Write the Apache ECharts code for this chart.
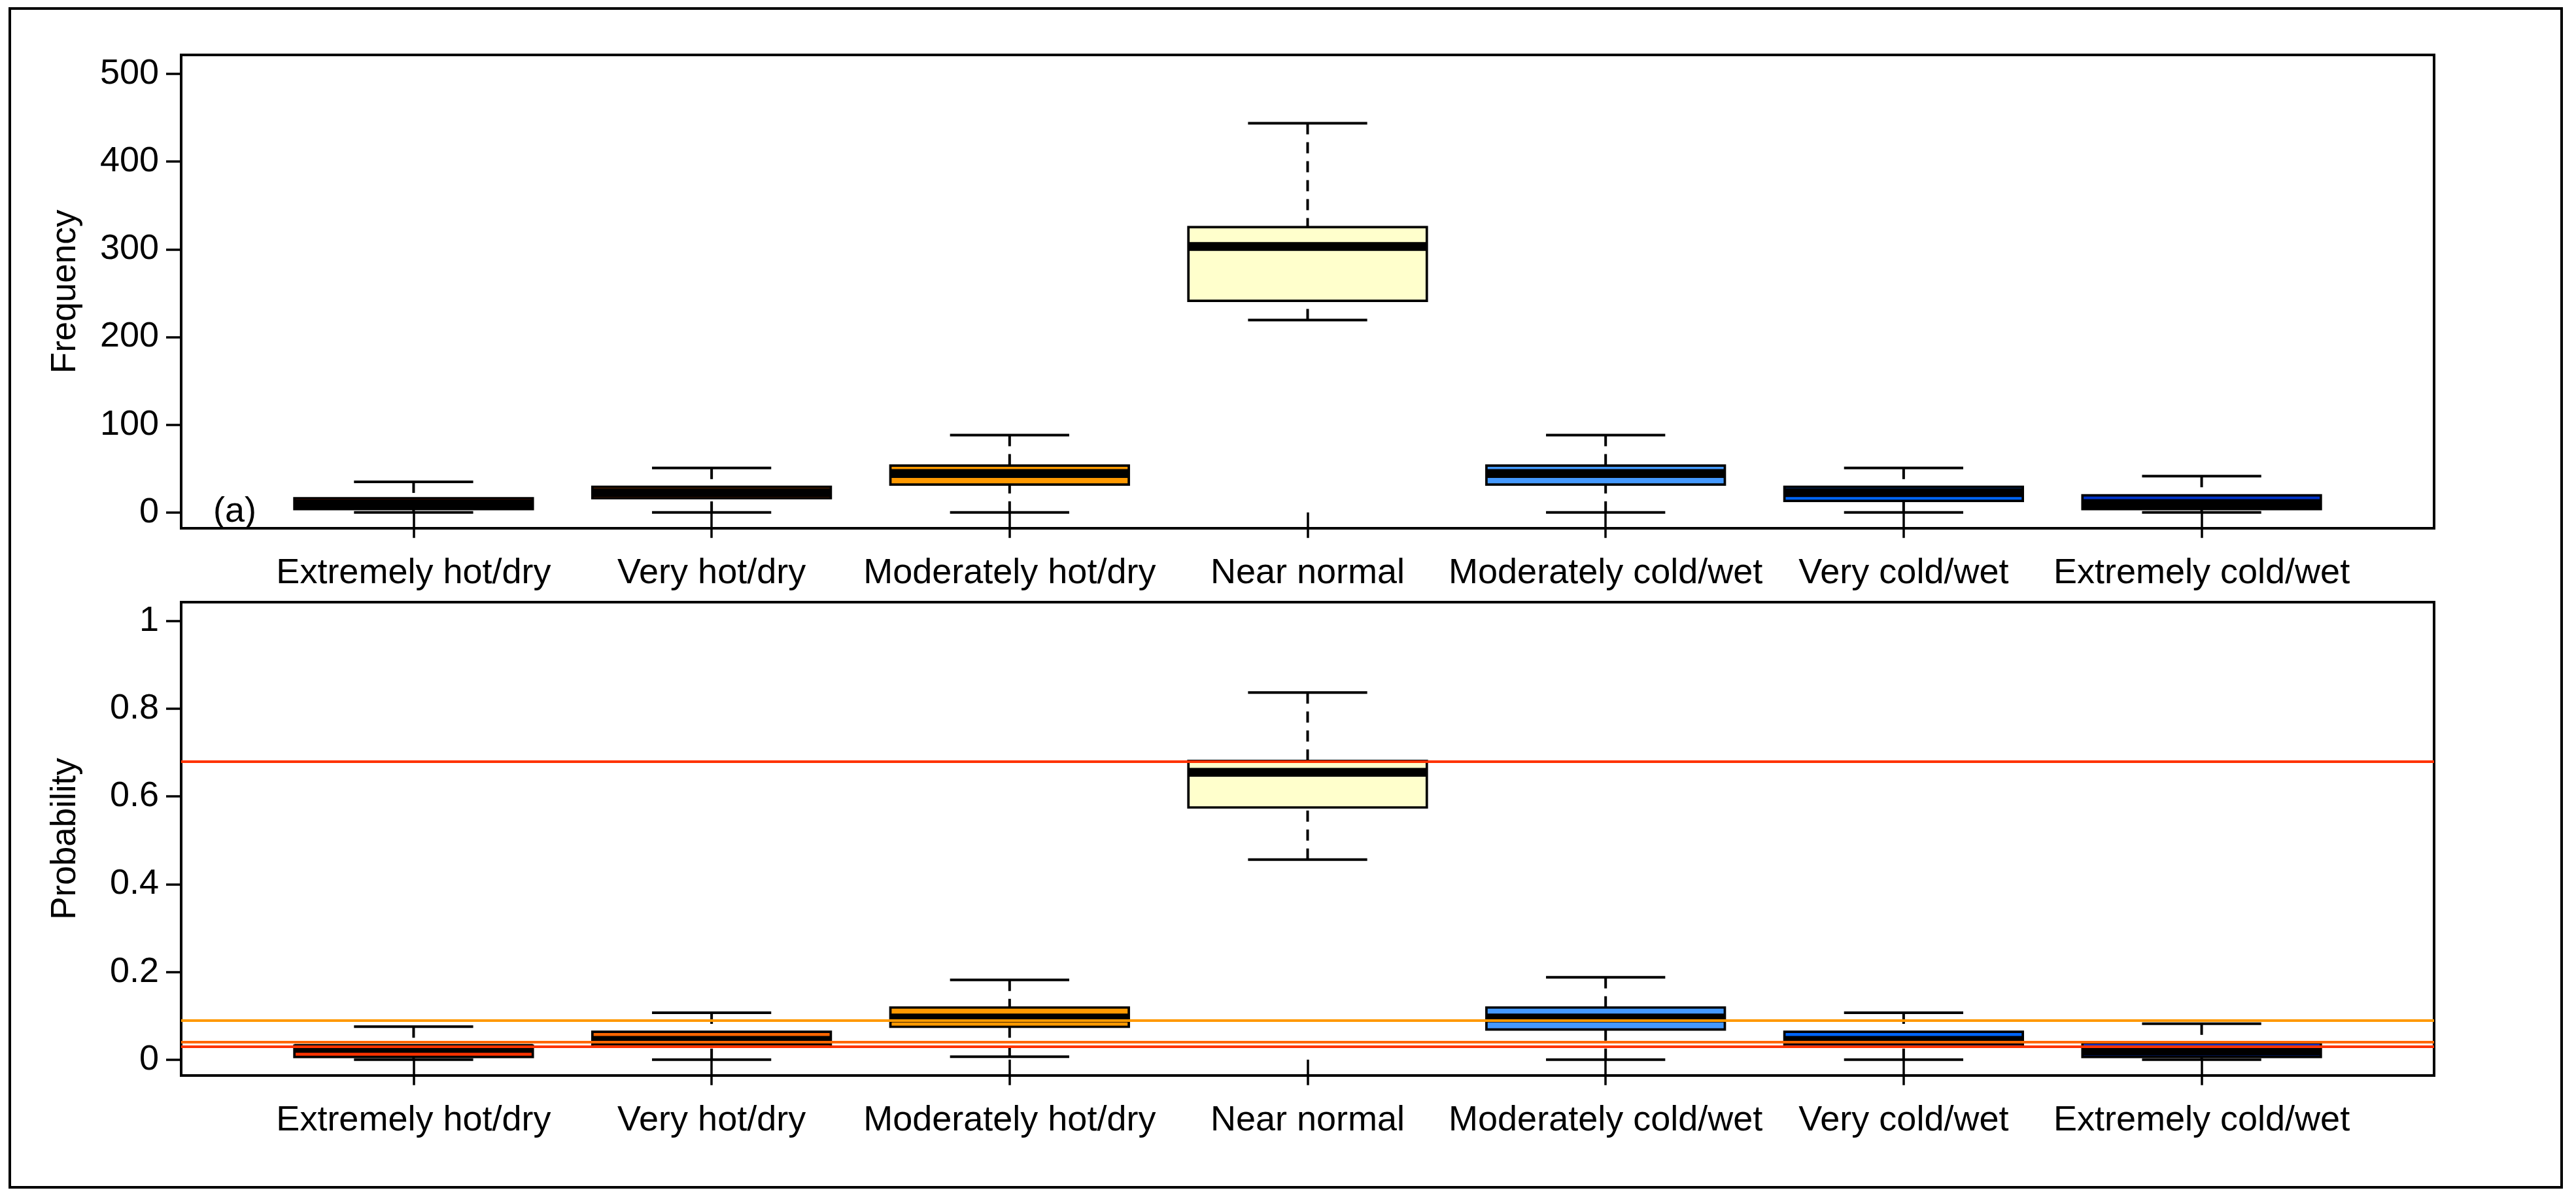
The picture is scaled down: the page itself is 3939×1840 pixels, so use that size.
<!DOCTYPE html>
<html>
<head>
<meta charset="utf-8">
<script src="https://cdn.jsdelivr.net/npm/echarts@6/dist/echarts.min.js"></script>
<style>
html,body{margin:0;padding:0;background:#fff;}
#chart{width:3939px;height:1840px;}
</style>
</head>
<body>
<div id="chart"></div>
<script>
// ---- data ----
const categories = ['Extremely hot/dry','Very hot/dry','Moderately hot/dry','Near normal','Moderately cold/wet','Very cold/wet','Extremely cold/wet'];
const boxColors = ['#FF3300','#FF6600','#FF9900','#FFFFCC','#4499FF','#0066FF','#0033CC'];

// Frequency panel (a): min, Q1, median, Q3, max
const freqMin = [0, 0, 0, 219.3, 0, 0, 0];
const freqQ1  = [3.8, 16.3, 31.9, 241.2, 31.9, 13.2, 3.8];
const freqMed = [10, 22.7, 44.5, 303.3, 44.5, 22.6, 10.2];
const freqQ3  = [16.3, 29.2, 53.5, 325.3, 53.5, 29.2, 19.5];
const freqMax = [35, 50.7, 88.2, 443.8, 88.2, 50.7, 41.5];

// Probability panel
const probMin = [0, 0, 0.007, 0.456, 0, 0, 0];
const probQ1  = [0.0064, 0.031, 0.075, 0.575, 0.069, 0.031, 0.0064];
const probMed = [0.026, 0.044, 0.095, 0.655, 0.0953, 0.044, 0.0194];
const probQ3  = [0.032, 0.0636, 0.119, 0.681, 0.119, 0.0636, 0.0388];
const probMax = [0.0755, 0.107, 0.182, 0.837, 0.188, 0.107, 0.082];

// reference lines in probability panel
const refValues = [0.681, 0.0944, 0.0447, 0.0258];
const refColors = ['#FF3300', '#FF9900', '#FF6600', '#FF3300'];

const freqTicks = [0, 100, 200, 300, 400, 500];
const probTicks = [0, 0.2, 0.4, 0.6, 0.8, 1];
const probTickLabels = ['0', '0.2', '0.4', '0.6', '0.8', '1'];
const catPositions = [1, 2, 3, 4, 5, 6, 7];

// ---- chart ----
const FONT = '"Liberation Sans", Arial, sans-serif';
const chart = echarts.init(document.getElementById('chart'), null, {renderer: 'canvas'});

function buildData(mn, q1, md, q3, mx) {
  return categories.map((c, i) => [catPositions[i], mn[i], q1[i], md[i], q3[i], mx[i]]);
}

function renderBox(params, api) {
  const i = params.dataIndex;
  const x = api.value(0), mn = api.value(1), q1 = api.value(2), md = api.value(3), q3 = api.value(4), mx = api.value(5);
  const hw = 0.4, cw = 0.2;
  const c = (a, b) => api.coord([a, b]);
  const pTL = c(x - hw, q3), pBR = c(x + hw, q1);
  const line = (a1, b1, a2, b2, w, dash) => {
    const p1 = c(a1, b1), p2 = c(a2, b2);
    return {
      type: 'line',
      shape: {x1: p1[0], y1: p1[1], x2: p2[0], y2: p2[1]},
      style: {stroke: '#000', lineWidth: w, lineDash: dash || null, lineCap: 'butt'}
    };
  };
  return {
    type: 'group',
    children: [
      line(x, mx, x, q3, 4, [17, 12]),
      line(x, mn, x, q1, 4, [17, 12]),
      line(x - cw, mx, x + cw, mx, 4),
      line(x - cw, mn, x + cw, mn, 4),
      {
        type: 'rect',
        shape: {x: pTL[0], y: pTL[1], width: pBR[0] - pTL[0], height: pBR[1] - pTL[1]},
        style: {fill: boxColors[i], stroke: '#000', lineWidth: 3.7}
      },
      line(x - hw, md, x + hw, md, 13.5)
    ]
  };
}

function xAxisDef(gridIndex) {
  return {
    type: 'value', gridIndex: gridIndex, min: 0.22, max: 7.78,
    axisLine: {show: false},
    splitLine: {show: false},
    axisTick: {show: true, inside: false, length: 39, customValues: catPositions, lineStyle: {color: '#000', width: 3.5}},
    axisLabel: {
      show: true, customValues: catPositions, margin: 42,
      formatter: v => categories[Math.round(v) - 1],
      fontSize: 54, fontFamily: FONT, color: '#000'
    }
  };
}

const option = {
  backgroundColor: '#fff',
  animation: false,
  graphic: [
    {type: 'rect', shape: {x: 15, y: 13, width: 3902, height: 1803}, style: {fill: 'none', stroke: '#000', lineWidth: 4}, z: 100},
    {type: 'text', x: 326, y: 783, style: {text: '(a)', fontSize: 54, fontFamily: FONT, fill: '#000', align: 'left', verticalAlign: 'middle'}, z: 100}
  ],
  grid: [
    {left: 277, top: 84, width: 3445, height: 724, show: true, borderColor: '#000', borderWidth: 4, backgroundColor: 'transparent'},
    {left: 277, top: 921, width: 3445, height: 724, show: true, borderColor: '#000', borderWidth: 4, backgroundColor: 'transparent'}
  ],
  xAxis: [xAxisDef(0), xAxisDef(1)],
  yAxis: [
    {
      type: 'value', gridIndex: 0, min: -18, max: 521.6,
      name: 'Frequency', nameLocation: 'middle', nameGap: 150,
      nameTextStyle: {fontSize: 53, fontFamily: FONT, color: '#000'},
      axisLine: {show: false}, splitLine: {show: false},
      axisTick: {show: true, inside: false, length: 23, customValues: freqTicks, lineStyle: {color: '#000', width: 3.5}},
      axisLabel: {show: true, customValues: freqTicks, margin: 34, fontSize: 54, fontFamily: FONT, color: '#000'}
    },
    {
      type: 'value', gridIndex: 1, min: -0.036, max: 1.043,
      name: 'Probability', nameLocation: 'middle', nameGap: 150,
      nameTextStyle: {fontSize: 53, fontFamily: FONT, color: '#000'},
      axisLine: {show: false}, splitLine: {show: false},
      axisTick: {show: true, inside: false, length: 23, customValues: probTicks, lineStyle: {color: '#000', width: 3.5}},
      axisLabel: {
        show: true, customValues: probTicks, margin: 34, fontSize: 54, fontFamily: FONT, color: '#000',
        formatter: v => {
          const k = probTicks.findIndex(t => Math.abs(t - v) < 1e-9);
          return k >= 0 ? probTickLabels[k] : '';
        }
      }
    }
  ],
  series: [
    {
      type: 'custom', name: 'Frequency', xAxisIndex: 0, yAxisIndex: 0, z: 2,
      renderItem: renderBox, clip: false,
      encode: {x: 0, y: [1, 2, 3, 4, 5]},
      data: buildData(freqMin, freqQ1, freqMed, freqQ3, freqMax)
    },
    {
      type: 'custom', name: 'Probability', xAxisIndex: 1, yAxisIndex: 1, z: 2,
      renderItem: renderBox, clip: false,
      encode: {x: 0, y: [1, 2, 3, 4, 5]},
      data: buildData(probMin, probQ1, probMed, probQ3, probMax)
    },
    {
      type: 'line', name: 'Reference', xAxisIndex: 1, yAxisIndex: 1, z: 10,
      data: [], silent: true,
      markLine: {
        silent: true, symbol: ['none', 'none'], animation: false,
        label: {show: false},
        data: refValues.map((v, i) => ({yAxis: v, lineStyle: {color: refColors[i], width: 4, type: 'solid'}}))
      }
    }
  ]
};
chart.setOption(option);
</script>
</body>
</html>
